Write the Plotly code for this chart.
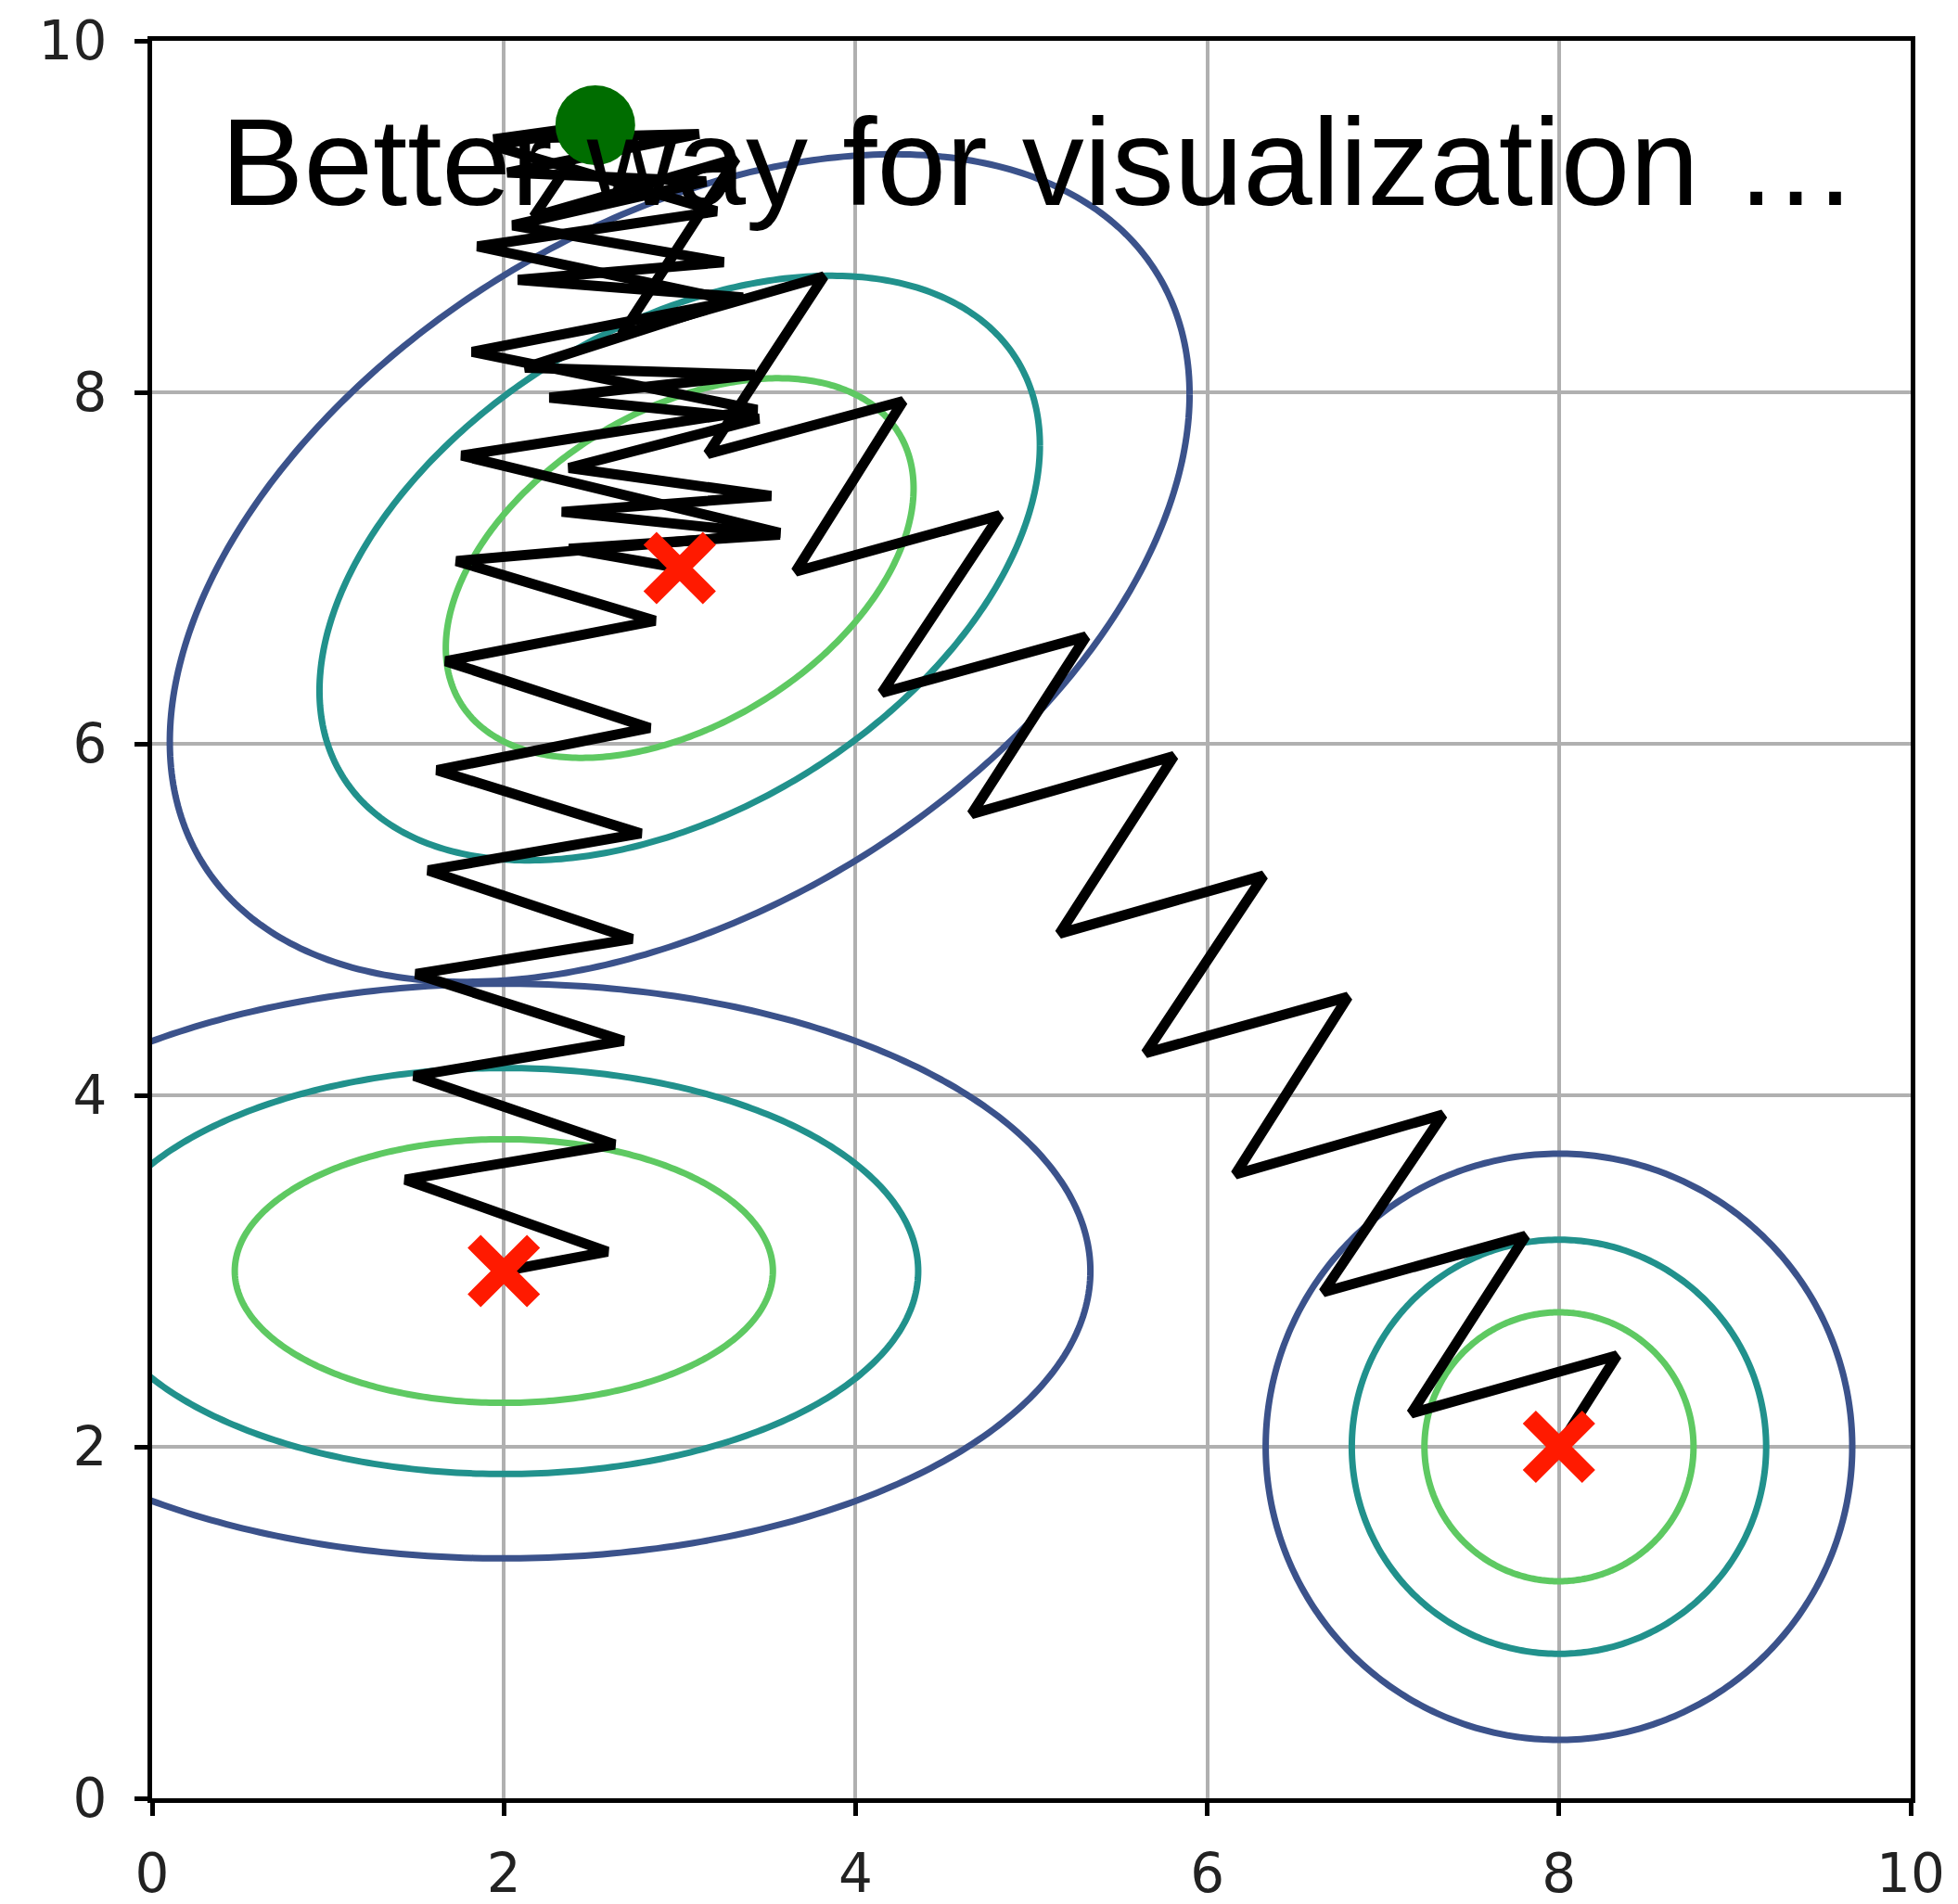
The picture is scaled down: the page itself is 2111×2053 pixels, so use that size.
import numpy as np
import plotly.graph_objects as go

# Gaussian bumps: centres, spread along x / y and correlation
centre_x = [2.0, 3.0, 8.0]
centre_y = [3.0, 7.0, 2.0]
spread_x = [1.53, 1.33, 0.765]
spread_y = [0.75, 1.08, 0.765]
corr = [0.0, 0.42, 0.0]

# contour levels (relative radius) and their colours
level_radius = [1.0, 1.54, 2.18]
level_color = ["#5ec962", "#21918c", "#3b528b"]

# descent paths, all starting from the same point
start_x = [2.52]
start_y = [9.52]

path_a_x = [2.52, 1.95, 3.21, 1.85, 3.31, 1.82, 3.44, 1.76, 3.57, 1.73, 2.86, 1.67, 2.83,
            1.62, 2.78, 1.57, 2.73, 1.50, 2.68, 1.49, 2.63, 1.44, 2.59, 2.0]
path_a_y = [9.52, 9.40, 9.03, 8.83, 8.52, 8.23, 7.90, 7.64, 7.20, 7.04, 6.70, 6.47, 6.09,
            5.85, 5.49, 5.28, 4.89, 4.69, 4.31, 4.11, 3.72, 3.52, 3.11, 3.0]

path_b_x = [2.52, 1.94, 3.11, 2.02, 3.15, 2.05, 3.25, 2.08, 3.36, 2.12, 3.43, 2.26, 3.45,
            2.37, 3.52, 2.33, 3.57, 2.37, 3.0]
path_b_y = [9.52, 9.44, 9.47, 9.25, 9.20, 8.95, 8.74, 8.64, 8.54, 8.14, 8.10, 7.97, 7.85,
            7.57, 7.41, 7.32, 7.19, 7.11, 7.0]

path_c_x = [2.52, 2.17, 3.32, 2.67, 3.82, 3.16, 4.27, 3.66, 4.82, 4.15, 5.31, 4.66, 5.81,
            5.16, 6.32, 5.65, 6.80, 6.16, 7.34, 6.66, 7.81, 7.16, 8.33, 8.0]
path_c_y = [9.52, 9.00, 9.33, 8.33, 8.66, 7.65, 7.95, 6.98, 7.30, 6.29, 6.61, 5.60, 5.93,
            4.92, 5.25, 4.24, 4.56, 3.55, 3.89, 2.88, 3.20, 2.19, 2.52, 2.0]

tick_vals = [0, 2, 4, 6, 8, 10]
title_text = "Better way for visualization …"

fig = go.Figure()

# contour ellipses
t = np.linspace(0, 2 * np.pi, 400)
for cx, cy, sx, sy, rho in zip(centre_x, centre_y, spread_x, spread_y, corr):
    for r, col in zip(level_radius, level_color):
        ex = cx + r * sx * np.cos(t)
        ey = cy + r * sy * (rho * np.cos(t) + np.sqrt(1 - rho ** 2) * np.sin(t))
        fig.add_trace(go.Scatter(x=ex, y=ey, mode="lines",
                                 line=dict(color=col, width=7, simplify=False),
                                 hoverinfo="skip", showlegend=False))

# descent paths
for px, py in [(path_a_x, path_a_y), (path_b_x, path_b_y), (path_c_x, path_c_y)]:
    fig.add_trace(go.Scatter(x=px, y=py, mode="lines",
                             line=dict(color="black", width=11, simplify=False),
                             hoverinfo="skip", showlegend=False))

# minima
fig.add_trace(go.Scatter(x=centre_x, y=centre_y, mode="markers",
                         marker=dict(symbol="x-thin", size=64,
                                     line=dict(color="#ff1a00", width=20)),
                         hoverinfo="skip", showlegend=False))

# starting point
fig.add_trace(go.Scatter(x=start_x, y=start_y, mode="markers",
                         marker=dict(symbol="circle", size=86, color="#006d00",
                                     line=dict(width=0)),
                         hoverinfo="skip", showlegend=False))

axis_style = dict(
    range=[0, 10], tickvals=tick_vals, ticktext=[str(v) for v in tick_vals],
    showgrid=True, gridcolor="#b0b0b0", gridwidth=4,
    showline=True, linecolor="black", linewidth=5, mirror=True,
    ticks="outside", ticklen=14, tickwidth=5, tickcolor="black",
    zeroline=False, automargin=False,
    tickfont=dict(family="DejaVu Sans", size=58, color="#222222"),
)

fig.update_layout(
    width=2111, height=2053, autosize=False,
    margin=dict(l=164, r=51, t=44, b=114),
    paper_bgcolor="white", plot_bgcolor="white",
    xaxis=dict(axis_style, ticklabelstandoff=12),
    yaxis=dict(axis_style, ticklabelstandoff=18),
    showlegend=False,
)

fig.add_annotation(
    text=title_text, xref="paper", yref="paper",
    x=0.038, y=0.891, xanchor="left", yanchor="bottom",
    showarrow=False,
    font=dict(family="Liberation Sans", size=134, color="black"),
)

fig.write_html("out.html")
